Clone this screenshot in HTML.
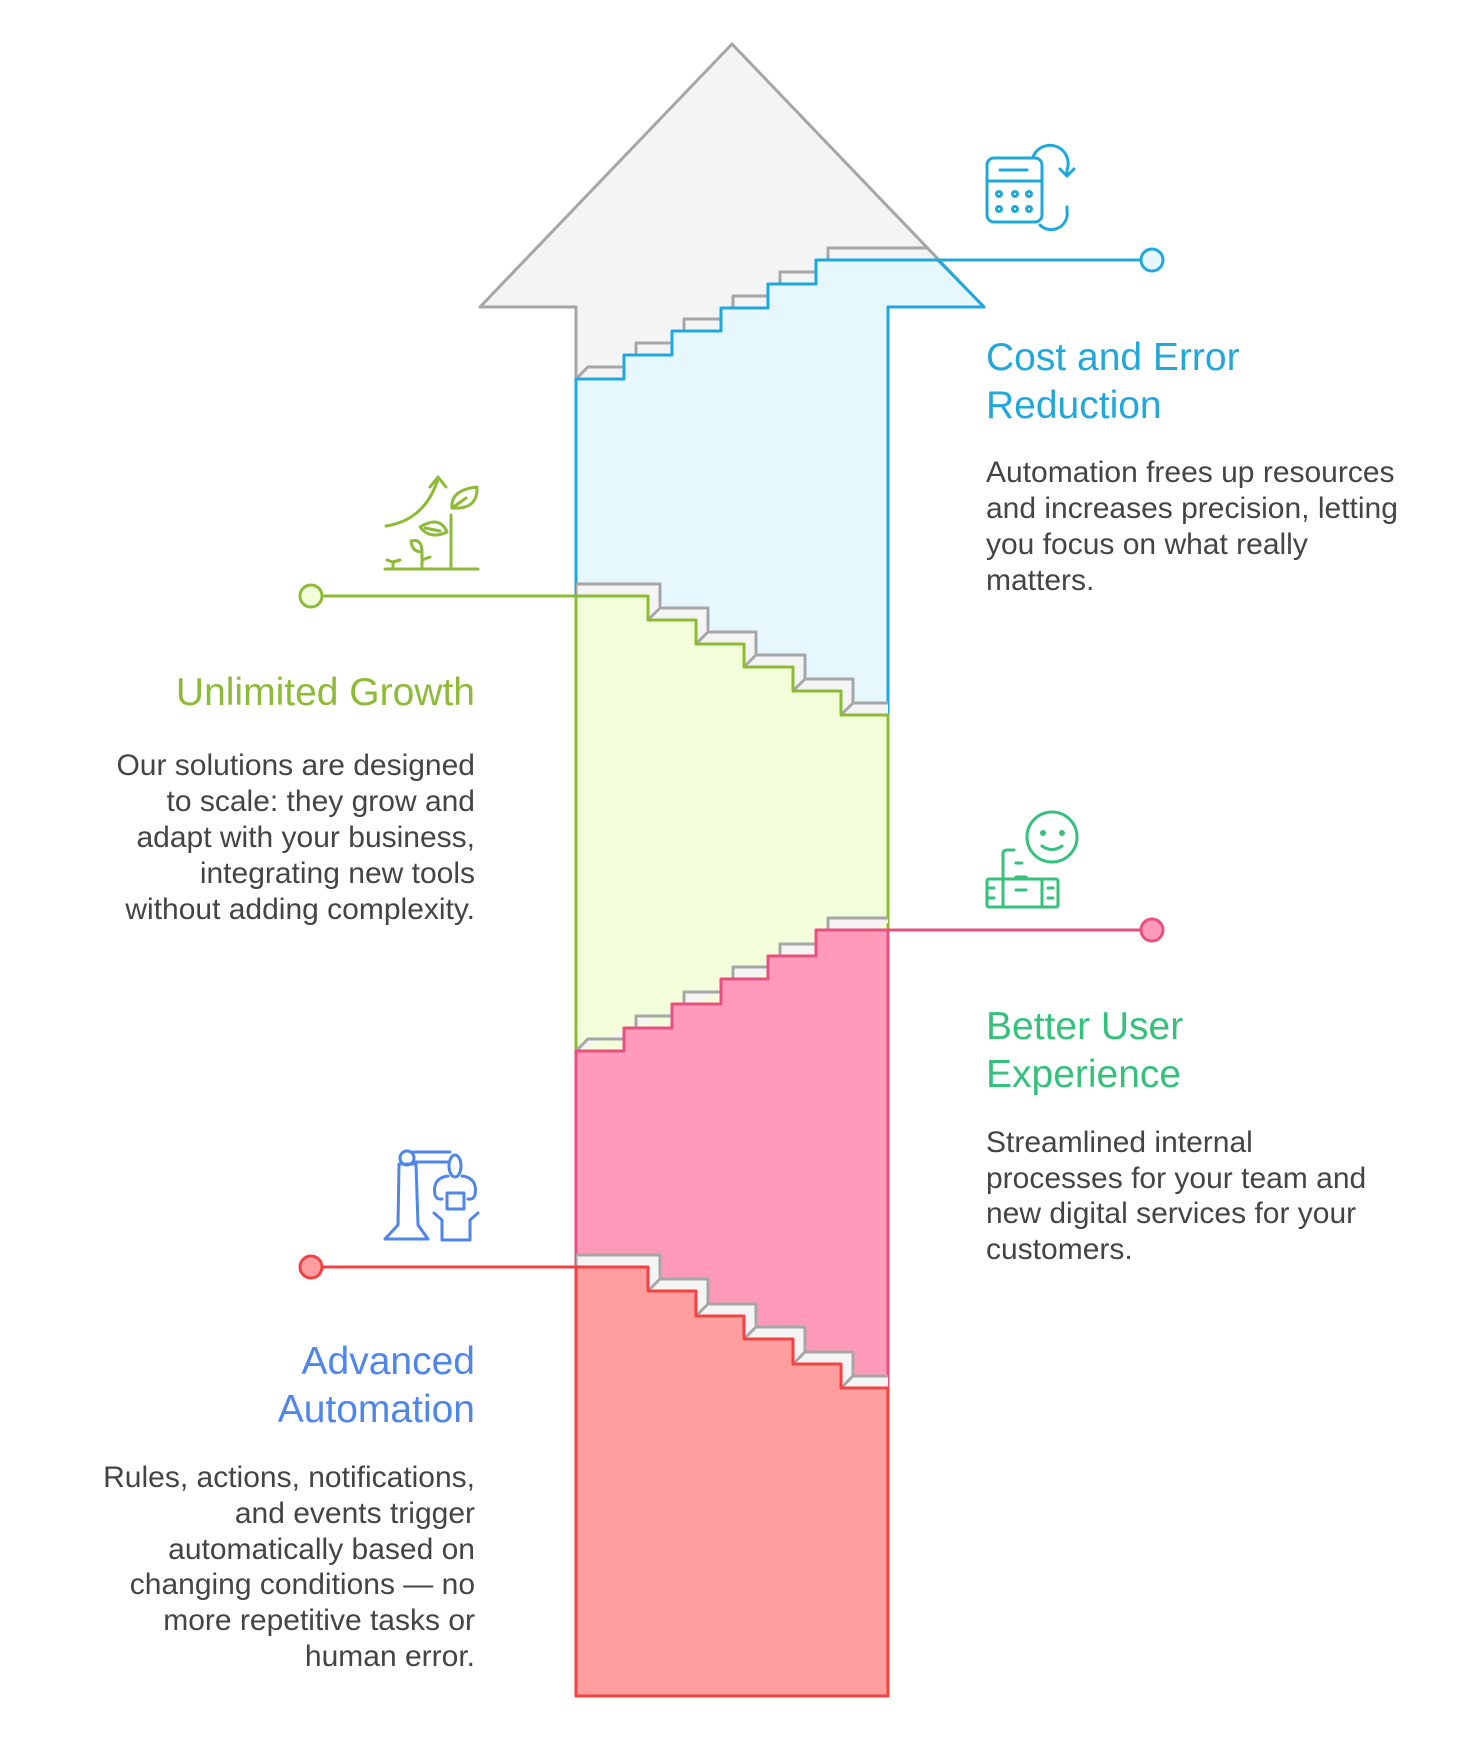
<!DOCTYPE html>
<html><head><meta charset="utf-8"><style>
html,body{margin:0;padding:0;background:#fff;}
svg{display:block;}
text{font-family:"Liberation Sans",sans-serif;}
.b{font-size:30px;fill:#444;}
.h{font-size:39px;}
</style></head><body>
<svg width="1464" height="1758" viewBox="0 0 1464 1758" xmlns="http://www.w3.org/2000/svg">
<defs>
<clipPath id="ac"><path d="M732,44 L984,307 L888,307 L888,1696 L576,1696 L576,307 L480,307 Z"/></clipPath>
</defs>
<path d="M732,44 L984,307 L888,307 L888,1696 L576,1696 L576,307 L480,307 Z" fill="#f4f4f4" stroke="#a6a6a6" stroke-width="3" stroke-linejoin="round"/>
<g stroke-linejoin="round">
<!-- blue -->
<g clip-path="url(#ac)">
<g transform="translate(12,-12)"><polyline points="564,391 576,379 624,379 624,355 672,355 672,331 721,331 721,308 768,308 768,284 816,284 816,260 940,260" fill="none" stroke="#a6a6a6" stroke-width="3"/></g>
<g stroke="#a6a6a6" stroke-width="3"><line x1="624" y1="379" x2="636" y2="367"/><line x1="672" y1="355" x2="684" y2="343"/><line x1="721" y1="331" x2="733" y2="319"/><line x1="768" y1="308" x2="780" y2="296"/><line x1="816" y1="284" x2="828" y2="272"/></g>
</g>
<path d="M576,379 L624,379 L624,355 L672,355 L672,331 L721,331 L721,308 L768,308 L768,284 L816,284 L816,260 L938,260 L984,307 L888,307 L888,730 L576,730 Z" fill="#e6f7fd" stroke="#21a8db" stroke-width="3"/>
<!-- green -->
<g clip-path="url(#ac)">
<polygon points="576,584 660,584 660,608 708,608 708,632 756,632 756,655 805,655 805,679 853,679 853,703 900,703 900,715 576,715" fill="#f4f4f4" stroke="#a6a6a6" stroke-width="3"/>
<g stroke="#a6a6a6" stroke-width="3"><line x1="648" y1="620" x2="660" y2="608"/><line x1="696" y1="644" x2="708" y2="632"/><line x1="744" y1="667" x2="756" y2="655"/><line x1="793" y1="691" x2="805" y2="679"/><line x1="841" y1="715" x2="853" y2="703"/></g>
</g>
<path d="M576,596 L648,596 L648,620 L696,620 L696,644 L744,644 L744,667 L793,667 L793,691 L841,691 L841,715 L888,715 L888,1100 L576,1100 Z" fill="#f2fdd9" stroke="#8dbb37" stroke-width="3"/>
<!-- pink -->
<g clip-path="url(#ac)">
<polyline points="576,1051 588,1039 636,1039 636,1016 684,1016 684,992 733,992 733,967 780,967 780,944 828,944 828,918 900,918" fill="#f4f4f4" stroke="#a6a6a6" stroke-width="3"/>
<g stroke="#a6a6a6" stroke-width="3"><line x1="624" y1="1051" x2="636" y2="1039"/><line x1="672" y1="1028" x2="684" y2="1016"/><line x1="721" y1="1004" x2="733" y2="992"/><line x1="768" y1="979" x2="780" y2="967"/><line x1="816" y1="956" x2="828" y2="944"/></g>
</g>
<path d="M576,1051 L624,1051 L624,1028 L672,1028 L672,1004 L721,1004 L721,979 L768,979 L768,956 L816,956 L816,930 L888,930 L888,1400 L576,1400 Z" fill="#ff9abb" stroke="#e8507f" stroke-width="3"/>
<!-- red -->
<g clip-path="url(#ac)">
<polygon points="576,1255 660,1255 660,1279 708,1279 708,1304 756,1304 756,1327 805,1327 805,1352 853,1352 853,1376 900,1376 900,1388 576,1388" fill="#f4f4f4" stroke="#a6a6a6" stroke-width="3"/>
<g stroke="#a6a6a6" stroke-width="3"><line x1="648" y1="1291" x2="660" y2="1279"/><line x1="696" y1="1316" x2="708" y2="1304"/><line x1="744" y1="1339" x2="756" y2="1327"/><line x1="793" y1="1364" x2="805" y2="1352"/><line x1="841" y1="1388" x2="853" y2="1376"/></g>
</g>
<path d="M576,1267 L648,1267 L648,1291 L696,1291 L696,1316 L744,1316 L744,1339 L793,1339 L793,1364 L841,1364 L841,1388 L888,1388 L888,1696 L576,1696 Z" fill="#ff9e9e" stroke="#f04444" stroke-width="3"/>
</g>
<!-- connectors -->
<line x1="816" y1="260" x2="1140" y2="260" stroke="#21a8db" stroke-width="3"/>
<circle cx="1152" cy="260" r="11" fill="#e6f7fd" stroke="#21a8db" stroke-width="3"/>
<line x1="888" y1="930" x2="1140" y2="930" stroke="#e8507f" stroke-width="3"/>
<circle cx="1152" cy="930" r="11" fill="#ff9abb" stroke="#e8507f" stroke-width="3"/>
<line x1="323" y1="596" x2="648" y2="596" stroke="#8dbb37" stroke-width="3"/>
<circle cx="311" cy="596" r="11" fill="#f2fdd9" stroke="#8dbb37" stroke-width="3"/>
<line x1="323" y1="1267" x2="648" y2="1267" stroke="#f04444" stroke-width="3"/>
<circle cx="311" cy="1267" r="11" fill="#ff9e9e" stroke="#f04444" stroke-width="3"/>
<!-- calc icon -->
<g fill="none" stroke="#21a8db" stroke-width="3" stroke-linecap="round" stroke-linejoin="round">
<rect x="987" y="158" width="55" height="64" rx="7"/>
<line x1="1000" y1="170" x2="1027" y2="170"/><line x1="987" y1="181" x2="1042" y2="181"/>
<circle cx="999" cy="194" r="2.5"/><circle cx="1015" cy="194" r="2.5"/><circle cx="1029" cy="194" r="2.5"/>
<circle cx="999" cy="209" r="2.5"/><circle cx="1015" cy="209" r="2.5"/><circle cx="1029" cy="209" r="2.5"/>
<path d="M1033,157 A18,18 0 0 1 1067,170 L1067,176"/><path d="M1060,169 L1067,176 L1074,169"/>
<path d="M1067,207 L1067,211 A16,16 0 0 1 1040,225"/>
</g>
<!-- growth icon -->
<g fill="none" stroke="#8dbb37" stroke-width="3" stroke-linecap="round" stroke-linejoin="round">
<line x1="385" y1="569" x2="478" y2="569"/>
<path d="M386,526 Q425,520 438,479"/><path d="M430,487 L438,477 L446,487"/>
<line x1="451" y1="569" x2="451" y2="515"/>
<path d="M452,508 Q450,490 477,487 Q478,510 452,508 Z"/><line x1="452" y1="508" x2="466" y2="498"/>
<path d="M447,532 Q440,515 420,527 Q430,540 447,532 Z"/><line x1="425" y1="528" x2="440" y2="531"/>
<line x1="422" y1="569" x2="422" y2="552"/><path d="M422,552 Q422,538 411,541 Q412,552 422,552 Z"/><line x1="422" y1="560" x2="430" y2="557"/>
<path d="M393,569 L393,562 M387,560 L393,562 L400,560"/>
</g>
<!-- robot icon -->
<g fill="none" stroke="#4f86e8" stroke-width="3" stroke-linecap="round" stroke-linejoin="round">
<path d="M385,1239 L428,1239 L418,1225 L416,1164 L399,1164 L398,1225 Z"/>
<circle cx="407" cy="1158" r="7"/>
<path d="M413,1152 L450,1152 M413,1162 L448,1162"/>
<ellipse cx="455" cy="1166" rx="6" ry="11"/>
<path d="M448,1176 Q432,1178 435,1195 Q437,1200 442,1199 M462,1176 Q478,1178 475,1195 Q473,1200 468,1199"/>
<rect x="447" y="1193" width="17" height="16"/>
<path d="M434,1213 L442,1220 L442,1240 L470,1240 L470,1220 L478,1213"/>
</g>
<!-- smiley icon -->
<g fill="none" stroke="#35c17b" stroke-width="3" stroke-linecap="round" stroke-linejoin="round">
<circle cx="1052" cy="837" r="25"/>
<circle cx="1043" cy="833" r="1.5" fill="#35c17b"/><circle cx="1062" cy="833" r="1.5" fill="#35c17b"/>
<path d="M1042,846 Q1052,853 1062,846"/>
<path d="M1003,906 L1003,854 Q1003,850 1007,850 L1014,850"/>
<rect x="987" y="879" width="71" height="28" rx="2"/>
<line x1="1016" y1="863" x2="1022" y2="863"/><line x1="1016" y1="877" x2="1026" y2="877"/><line x1="1016" y1="890" x2="1026" y2="890"/>
<line x1="1042" y1="879" x2="1042" y2="907"/>
<line x1="989" y1="888" x2="994" y2="888"/><line x1="989" y1="898" x2="994" y2="898"/>
<line x1="1048" y1="888" x2="1053" y2="888"/><line x1="1048" y1="898" x2="1053" y2="898"/>
</g>
<!-- text -->
<text class="h" x="986" y="370" fill="#21a8db">Cost and Error</text>
<text class="h" x="986" y="418" fill="#21a8db">Reduction</text>
<text class="b" x="986" y="482">Automation frees up resources</text>
<text class="b" x="986" y="518">and increases precision, letting</text>
<text class="b" x="986" y="554">you focus on what really</text>
<text class="b" x="986" y="590">matters.</text>

<g text-anchor="end">
<text class="h" x="475" y="705" fill="#8dbb37">Unlimited Growth</text>
<text class="b" x="475" y="775">Our solutions are designed</text>
<text class="b" x="475" y="811">to scale: they grow and</text>
<text class="b" x="475" y="847">adapt with your business,</text>
<text class="b" x="475" y="883">integrating new tools</text>
<text class="b" x="475" y="919">without adding complexity.</text>

<text class="h" x="475" y="1374" fill="#4f86e8">Advanced</text>
<text class="h" x="475" y="1422" fill="#4f86e8">Automation</text>
<text class="b" x="475" y="1487">Rules, actions, notifications,</text>
<text class="b" x="475" y="1523">and events trigger</text>
<text class="b" x="475" y="1559">automatically based on</text>
<text class="b" x="475" y="1594">changing conditions — no</text>
<text class="b" x="475" y="1630">more repetitive tasks or</text>
<text class="b" x="475" y="1666">human error.</text>
</g>

<text class="h" x="986" y="1039" fill="#35c17b">Better User</text>
<text class="h" x="986" y="1087" fill="#35c17b">Experience</text>
<text class="b" x="986" y="1152">Streamlined internal</text>
<text class="b" x="986" y="1188">processes for your team and</text>
<text class="b" x="986" y="1223">new digital services for your</text>
<text class="b" x="986" y="1259">customers.</text>
</svg>
</body></html>
